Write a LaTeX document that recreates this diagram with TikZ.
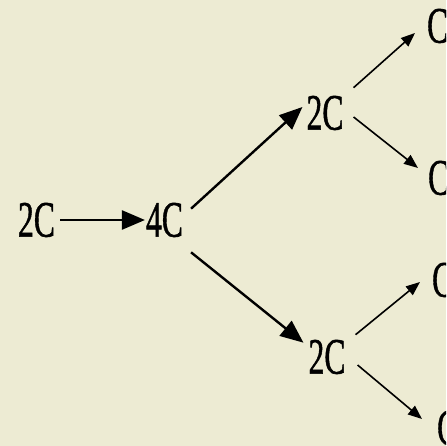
\documentclass[tikz,border=0pt]{standalone}
\usepackage{fontspec}
\setmainfont{Liberation Serif}
\newfontfamily\lblfont{Liberation Serif}[FakeBold=1.2]
\usetikzlibrary{arrows.meta}
\definecolor{bg}{RGB}{237,235,211}
\begin{document}
\begin{tikzpicture}[x=1pt,y=-1pt,
  lbl/.style={inner sep=0pt,xscale=0.62,font=\lblfont\fontsize{51}{51}\selectfont},
  mainarrow/.style={line width=2.4pt,-{Triangle[length=23pt,width=19pt]}},
  smallarrow/.style={line width=1.6pt,-{Triangle[length=14pt,width=11pt]}}]
\fill[bg] (0,0) rectangle (446,446);
\clip (0,0) rectangle (446,446);
\useasboundingbox (0,0) rectangle (446,446);
\node[lbl] (a) at (36.5,220) {2C};
\node[lbl] (b) at (164.5,220) {4C};
\node[lbl] (u) at (325,113) {2C};
\node[lbl] (d) at (327,357) {2C};
\node[lbl,anchor=west] (c1) at (427,26) {C};
\node[lbl,anchor=west] (c2) at (428,178) {C};
\node[lbl,anchor=west] (c3) at (432,280) {C};
\node[lbl,anchor=west] (c4) at (437,428) {C};
\draw[mainarrow] ([xshift=5pt]a.east) -- ([xshift=-1pt]b.west);
\draw[mainarrow] ([shift={(8,6)}]b.north east) -- ([shift={(-4,-6)}]u.west);
\draw[mainarrow] ([shift={(8,15)}]b.south east) -- ([shift={(-5,3)}]d.north west);
\draw[smallarrow] ([shift={(10,-8)}]u.north east) -- ([shift={(-12,7)}]c1.west);
\draw[smallarrow] ([shift={(10,4)}]u.east) -- ([shift={(-10,-10)}]c2.west);
\draw[smallarrow] ([shift={(10,-5)}]d.north east) -- ([shift={(-12,2)}]c3.west);
\draw[smallarrow] ([shift={(12,8)}]d.east) -- ([shift={(-15,-9)}]c4.west);
\end{tikzpicture}
\end{document}
